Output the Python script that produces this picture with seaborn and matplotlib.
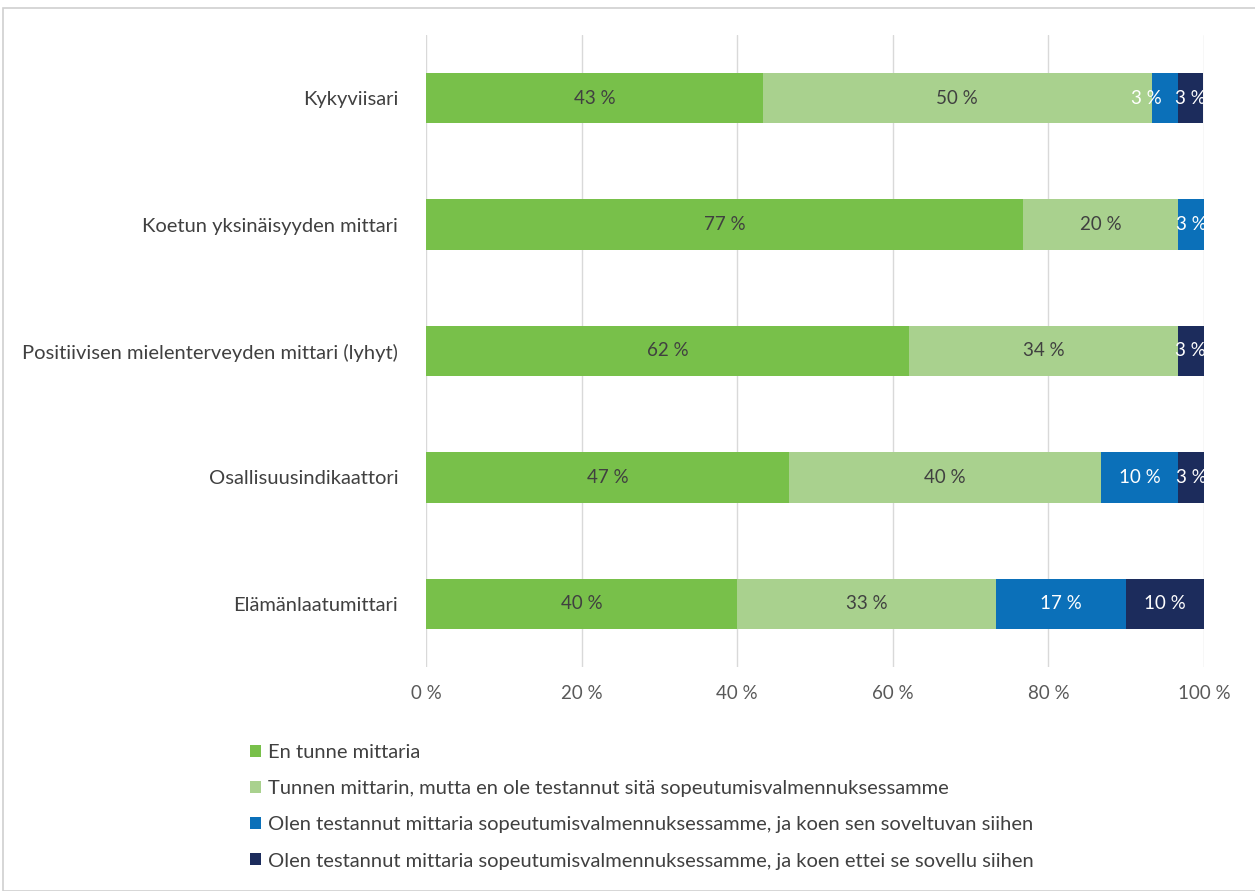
import matplotlib
matplotlib.use("Agg")
import matplotlib.pyplot as plt
import seaborn as sns
import numpy as np
import pandas as pd
from matplotlib.patches import Patch, Rectangle

categories = ["Kykyviisari", "Koetun yksinäisyyden mittari",
              "Positiivisen mielenterveyden mittari (lyhyt)",
              "Osallisuusindikaattori", "Elämänlaatumittari"]
series_names = ["En tunne mittaria",
                "Tunnen mittarin, mutta en ole testannut sitä sopeutumisvalmennuksessamme",
                "Olen testannut mittaria sopeutumisvalmennuksessamme, ja koen sen soveltuvan siihen",
                "Olen testannut mittaria sopeutumisvalmennuksessamme, ja koen ettei se sovellu siihen"]
s1 = [43.3, 76.7, 62.1, 46.7, 40.0]
s2 = [50.0, 20.0, 34.5, 40.0, 33.3]
s3 = [3.3, 3.3, 0.0, 10.0, 16.7]
s4 = [3.3, 0.0, 3.4, 3.3, 10.0]
colors = ["#78C04A", "#A9D18E", "#0B70B9", "#1C2C5C"]
label_colors = ["#404040", "#404040", "white", "white"]
xticks = [0, 20, 40, 60, 80, 100]

sns.set_theme(style="white")
plt.rcParams['font.family'] = ['Lato', 'DejaVu Sans']

fig = plt.figure(figsize=(12.55, 8.91), dpi=100)
ax = fig.add_axes([426/1255, 1-667/891, 778/1255, 632/891])

vals = np.array([s1, s2, s3, s4])
cum = np.cumsum(vals, axis=0)
df = pd.DataFrame({"cat": categories})
for i in range(3, -1, -1):
    df["v"] = cum[i]
    sns.barplot(data=df, y="cat", x="v", orient="h", color=colors[i],
                width=0.4, ax=ax, saturation=1, linewidth=0, order=categories)

for i in range(4):
    for j, c in enumerate(categories):
        v = vals[i][j]
        if v <= 0:
            continue
        center = cum[i][j] - v / 2
        # small label followed by another small label: nudge left to avoid collision
        if v < 5 and i < 3 and 0 < vals[i + 1][j] < 5:
            center -= 2.3
        ax.text(center, j, f"{round(v):.0f} %", ha="center", va="center",
                fontsize=13.5, color=label_colors[i], clip_on=True)

ax.set_xlim(0, 100)
ax.set_ylim(4.5, -0.5)
ax.set_xticks(xticks)
ax.set_xticklabels([f"{t} %" for t in xticks], fontsize=13.5, color="#595959")
ax.tick_params(axis="x", length=0, pad=13)
ax.tick_params(axis="y", length=0, pad=20, labelsize=14.5, labelcolor="#404040")
ax.set_xlabel("")
ax.set_ylabel("")
ax.grid(axis="x", color="#D9D9D9", linewidth=1)
ax.set_axisbelow(True)
for sp in ax.spines.values():
    sp.set_visible(False)

handles = [Patch(facecolor=colors[i], edgecolor="none", label=series_names[i]) for i in range(4)]
fig.legend(handles=handles, loc="upper left", bbox_to_anchor=(232/1255, 1-726/891),
           frameon=False, fontsize=14.5, handlelength=0.55, handleheight=0.55,
           handletextpad=0.35, labelspacing=0.95, labelcolor="#404040")

fig.patches.append(Rectangle((3/1255, 0), 1.5, 1-8/891, transform=fig.transFigure,
                             fill=False, edgecolor="#D0D0D0", linewidth=1.2))

fig.savefig("out.png", dpi=100)
